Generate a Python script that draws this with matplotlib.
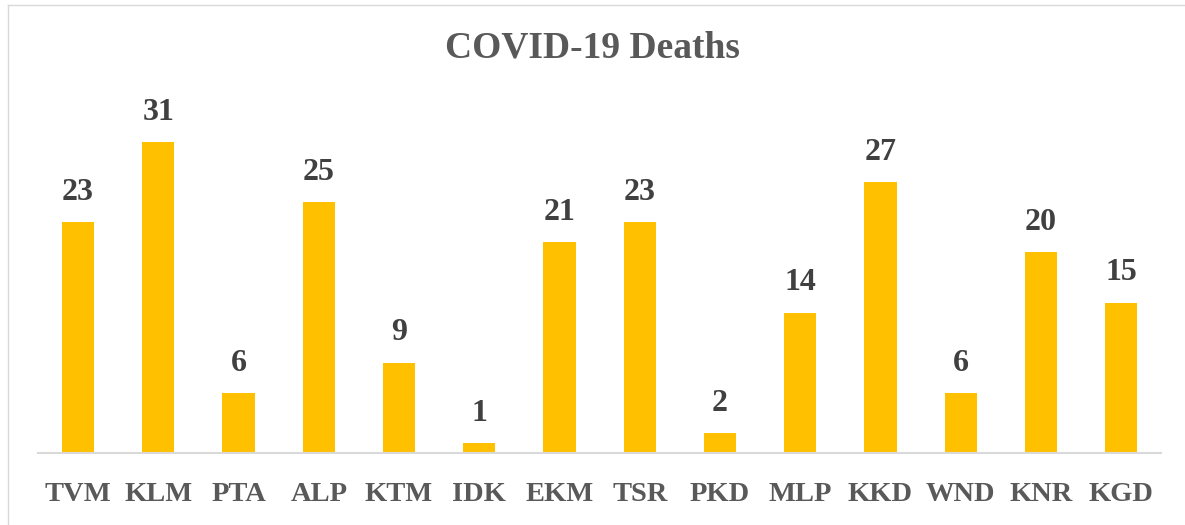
import matplotlib.pyplot as plt
from matplotlib.lines import Line2D

districts = ["TVM", "KLM", "PTA", "ALP", "KTM", "IDK", "EKM",
             "TSR", "PKD", "MLP", "KKD", "WND", "KNR", "KGD"]
deaths = [23, 31, 6, 25, 9, 1, 21, 23, 2, 14, 27, 6, 20, 15]

fig = plt.figure(figsize=(11.85, 5.25), dpi=100)
ax = fig.add_axes([0.032, 0.137, 0.948, 0.669])

bars = ax.bar(range(len(districts)), deaths, width=0.4, color="#FFC000")
ax.set_xlim(-0.5, len(districts) - 0.5)
ax.set_ylim(0, 35)

# Datalabels boven de balken
for b, v in zip(bars, deaths):
    ax.annotate(str(v), (b.get_x() + b.get_width() / 2, v), xytext=(0, 11),
                textcoords="offset points", ha="center", va="bottom",
                fontsize=23, fontweight="bold", family="Liberation Serif", color="#404040")

ax.set_xticks(range(len(districts)))
ax.set_xticklabels(districts, fontsize=20.5, fontweight="bold", family="Liberation Serif", color="#595959")
ax.tick_params(axis="x", length=0, pad=21)
ax.set_yticks([])

for s in ["top", "right", "left"]:
    ax.spines[s].set_visible(False)
ax.spines["bottom"].set_color("#D9D9D9")
ax.spines["bottom"].set_linewidth(1.5)

fig.text(0.5, 0.908, "COVID-19 Deaths", ha="center", va="center",
         fontsize=27, fontweight="bold", family="Liberation Serif", color="#595959")

# Rand van het grafiekgebied (links en boven zichtbaar)
fig.add_artist(Line2D([8 / 1185, 8 / 1185], [0, 1 - 4.5 / 525], transform=fig.transFigure, color="#D9D9D9", lw=1))
fig.add_artist(Line2D([8 / 1185, 1], [1 - 4.5 / 525, 1 - 4.5 / 525], transform=fig.transFigure, color="#D9D9D9", lw=1))

plt.savefig("out.png", dpi=100)
